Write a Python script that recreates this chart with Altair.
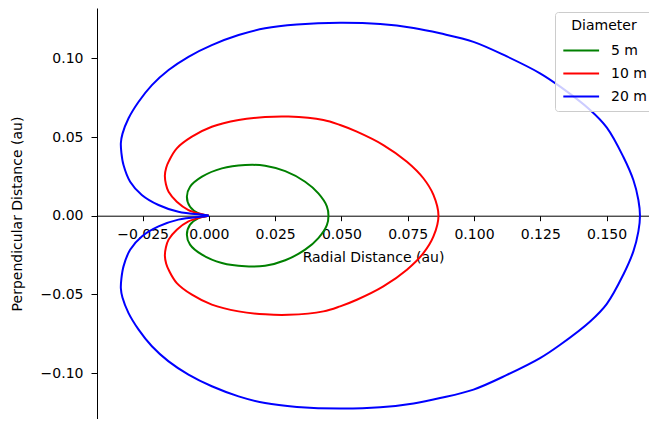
import altair as alt
import pandas as pd

# Values (upper half then lower half, closed loops)
series_names = ["5 m", "10 m", "20 m"]
series_colors = ["#008000", "#ff0000", "#0000ff"]

green_x = [0.0, -0.0039, -0.0071, -0.0083, -0.0071, -0.0026, 0.0049, 0.0137, 0.0212, 0.0288, 0.0363,
           0.0413, 0.0445, 0.0451,
           0.0445, 0.0413, 0.0363, 0.0288, 0.0212, 0.0137, 0.0049, -0.0026, -0.0071, -0.0083, -0.0071,
           -0.0039, 0.0]
green_y = [0.0, 0.0015, 0.0057, 0.0121, 0.0184, 0.0248, 0.0301, 0.0322, 0.0318, 0.0283, 0.0216,
           0.0142, 0.0060, 0.0,
           -0.0060, -0.0142, -0.0216, -0.0283, -0.0318, -0.0322, -0.0301, -0.0248, -0.0184, -0.0121, -0.0057,
           -0.0015, 0.0]

red_x = [0.0, -0.0026, -0.0077, -0.0121, -0.0152, -0.0162, -0.0166, -0.0161, -0.0150, -0.0121, -0.0064,
         0.0011, 0.0112, 0.0212, 0.0300, 0.0432, 0.0495, 0.0558, 0.0658, 0.0747, 0.0809, 0.0847, 0.0866,
         0.0847, 0.0809, 0.0747, 0.0658, 0.0558, 0.0495, 0.0432, 0.0300, 0.0212, 0.0112, 0.0011,
         -0.0064, -0.0121, -0.0150, -0.0161, -0.0166, -0.0162, -0.0152, -0.0121, -0.0077, -0.0026, 0.0]
red_y = [0.0, 0.0009, 0.0036, 0.0089, 0.0152, 0.0200, 0.0255, 0.0305, 0.0350, 0.0428, 0.0502,
         0.0565, 0.0608, 0.0627, 0.0630, 0.0608, 0.0576, 0.0534, 0.0449, 0.0343, 0.0238, 0.0132, 0.0,
         -0.0132, -0.0238, -0.0343, -0.0449, -0.0534, -0.0576, -0.0608, -0.0630, -0.0627, -0.0608, -0.0565,
         -0.0502, -0.0428, -0.0350, -0.0305, -0.0255, -0.0200, -0.0152, -0.0089, -0.0036, -0.0009, 0.0]

blue_x = [0.0, -0.0014, -0.0115, -0.0190, -0.0253, -0.0297, -0.0322, -0.0330, -0.0332, -0.0326, -0.0303,
          -0.0265, -0.0215, -0.0152, -0.0077, 0.0011, 0.0112, 0.0212, 0.0332, 0.0495, 0.0646, 0.0772,
          0.0872, 0.0998, 0.1124, 0.1249, 0.1325, 0.1438, 0.1501, 0.1563, 0.1601, 0.1620, 0.1626,
          0.1620, 0.1601, 0.1563, 0.1501, 0.1438, 0.1325, 0.1249, 0.1124, 0.0998, 0.0872, 0.0772,
          0.0646, 0.0495, 0.0332, 0.0212, 0.0112, 0.0011, -0.0077, -0.0152, -0.0215, -0.0265, -0.0303,
          -0.0326, -0.0332, -0.0330, -0.0322, -0.0297, -0.0253, -0.0190, -0.0115, -0.0014, 0.0]
blue_y = [0.0, 0.0004, 0.0025, 0.0068, 0.0132, 0.0216, 0.0322, 0.0400, 0.0462, 0.0520, 0.0619,
          0.0724, 0.0830, 0.0926, 0.1010, 0.1084, 0.1148, 0.1191, 0.1215, 0.1226, 0.1218, 0.1193,
          0.1159, 0.1105, 0.1012, 0.0905, 0.0820, 0.0672, 0.0560, 0.0375, 0.0227, 0.0100, 0.0,
          -0.0100, -0.0227, -0.0375, -0.0560, -0.0672, -0.0820, -0.0905, -0.1012, -0.1105, -0.1159, -0.1193,
          -0.1218, -0.1226, -0.1215, -0.1191, -0.1148, -0.1084, -0.1010, -0.0926, -0.0830, -0.0724, -0.0619,
          -0.0520, -0.0462, -0.0400, -0.0322, -0.0216, -0.0132, -0.0068, -0.0025, -0.0004, 0.0]

x_ticks = [-0.025, 0.0, 0.025, 0.05, 0.075, 0.1, 0.125, 0.15]
y_ticks = [-0.10, -0.05, 0.0, 0.05, 0.10]

rows = []
for name, xs, ys in [("5 m", green_x, green_y), ("10 m", red_x, red_y), ("20 m", blue_x, blue_y)]:
    for i, (xv, yv) in enumerate(zip(xs, ys)):
        rows.append({"Diameter": name, "x": xv, "y": yv, "i": i})
df = pd.DataFrame(rows)

W, H = 552, 411
x_dom = [-0.0422, 0.166]
y_dom = [-0.1292, 0.132]
x_axis_offset = -H * (0 - y_dom[0]) / (y_dom[1] - y_dom[0])

FONT = "DejaVu Sans"

chart = alt.Chart(df).mark_line(strokeWidth=2, interpolate="catmull-rom").encode(
    x=alt.X("x:Q",
            scale=alt.Scale(domain=x_dom, nice=False, zero=False),
            axis=alt.Axis(title="Radial Distance (au)", values=x_ticks, format=".3f",
                          offset=x_axis_offset, grid=False, tickSize=5, labelPadding=7,
                          titlePadding=9)),
    y=alt.Y("y:Q",
            scale=alt.Scale(domain=y_dom, nice=False, zero=False),
            axis=alt.Axis(title="Perpendicular Distance (au)", values=y_ticks, format=".2f",
                          grid=False, tickSize=6, labelPadding=8, titlePadding=16)),
    color=alt.Color("Diameter:N",
                    scale=alt.Scale(domain=series_names, range=series_colors),
                    sort=series_names,
                    legend=alt.Legend(title="Diameter", orient="none", legendX=458, legendY=4,
                                      symbolType="M-1,0H2.2", symbolSize=500, symbolStrokeWidth=2,
                                      labelFontSize=14, titleFontSize=14, titleFontWeight="normal",
                                      titleAnchor="middle", labelFont=FONT, titleFont=FONT,
                                      labelColor="black", titleColor="black",
                                      fillColor="rgba(255,255,255,0.8)", strokeColor="#cccccc",
                                      cornerRadius=3, padding=7, rowPadding=3, labelOffset=24)),
    order="i:Q",
).properties(
    width=W, height=H,
    autosize=alt.AutoSizeParams(type="none"),
    padding={"left": 89, "top": 0, "right": 0, "bottom": 0},
).configure_view(stroke=None).configure_axis(
    domainColor="black", domainWidth=1, tickColor="black", tickWidth=1,
    labelFont=FONT, titleFont=FONT, labelFontSize=14, titleFontSize=14,
    titleFontWeight="normal", labelColor="black", titleColor="black",
)

chart.save("out.html", embed_options={"renderer": "svg", "actions": False})
